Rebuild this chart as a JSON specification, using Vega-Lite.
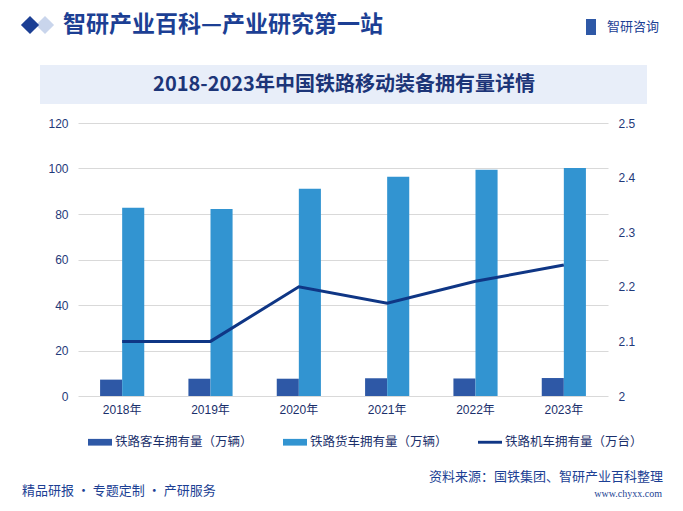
{
  "$schema": "https://vega.github.io/schema/vega-lite/v6.json",
  "width": 530,
  "height": 273,
  "autosize": {"type": "none"},
  "padding": {"left": 78, "right": 75, "top": 123, "bottom": 115},
  "background": "white",
  "config": {
    "view": {"stroke": null},
    "font": "Liberation Sans, Noto Sans CJK SC",
    "axis": {"labelFont": "Liberation Sans, Noto Sans CJK SC", "labelFontSize": 12, "labelColor": "#1f3a7a", "title": null, "domain": false, "ticks": false}
  },
  "datasets": {
    "rail": [
      {"year": "2018年", "客车": 7.2, "货车": 82.8, "机车": 2.10},
      {"year": "2019年", "客车": 7.6, "货车": 82.2, "机车": 2.10},
      {"year": "2020年", "客车": 7.6, "货车": 91.1, "机车": 2.20},
      {"year": "2021年", "客车": 7.8, "货车": 96.4, "机车": 2.17},
      {"year": "2022年", "客车": 7.7, "货车": 99.4, "机车": 2.21},
      {"year": "2023年", "客车": 7.9, "货车": 100.2, "机车": 2.24}
    ]
  },
  "data": {"name": "rail"},
  "layer": [
    {
      "transform": [
        {"fold": ["客车", "货车"], "as": ["kind", "value"]},
        {"calculate": "datum.kind === '客车' ? '铁路客车拥有量（万辆）' : '铁路货车拥有量（万辆）'", "as": "series"}
      ],
      "mark": {"type": "bar"},
      "encoding": {
        "x": {"field": "year", "type": "nominal", "sort": null,
              "scale": {"paddingInner": 0, "paddingOuter": 0},
              "axis": {"labelAngle": 0, "labelPadding": 8, "labelColor": "#1a2f6b"}},
        "xOffset": {"field": "series", "type": "nominal",
                    "scale": {"paddingInner": 0, "paddingOuter": 1.1, "domain": ["铁路客车拥有量（万辆）", "铁路货车拥有量（万辆）"]}},
        "y": {"field": "value", "type": "quantitative",
              "scale": {"domain": [0, 120], "nice": false},
              "axis": {"values": [0, 20, 40, 60, 80, 100, 120], "grid": true, "gridColor": "#d9d9d9", "labelPadding": 10, "orient": "left"}},
        "color": {"field": "series", "type": "nominal",
                  "scale": {"domain": ["铁路客车拥有量（万辆）", "铁路货车拥有量（万辆）", "铁路机车拥有量（万台）"],
                            "range": ["#2e58a6", "#3294d1", "#0f3685"]},
                  "legend": {
                    "title": null, "orient": "none", "direction": "horizontal", "legendX": 10, "legendY": 307,
                    "labelFont": "Noto Sans CJK SC", "labelFontSize": 12.5, "labelColor": "#1a2f6b",
                    "symbolType": "M-1,-0.28H1V0.28H-1Z", "symbolSize": 576, "symbolStrokeWidth": 0,
                    "labelOffset": 3, "columnPadding": 30,
                    "encode": {"symbols": {"update": {
                      "shape": {"signal": "datum.value === '铁路机车拥有量（万台）' ? 'M-1,-0.12H1V0.12H-1Z' : 'M-1,-0.28H1V0.28H-1Z'"},
                      "fill": {"scale": "color", "field": "value"},
                      "strokeWidth": {"value": 0}
                    }}}
                  }}
      }
    },
    {
      "mark": {"type": "line", "strokeWidth": 3},
      "encoding": {
        "x": {"field": "year", "type": "nominal", "sort": null},
        "y": {"field": "机车", "type": "quantitative",
              "scale": {"domain": [2, 2.5], "nice": false, "zero": false},
              "axis": {"orient": "right", "values": [2, 2.1, 2.2, 2.3, 2.4, 2.5], "format": "~g", "grid": false, "labelPadding": 10}},
        "color": {"datum": "铁路机车拥有量（万台）"}
      }
    },
    {
      "data": {"values": [{"t": "title"}]},
      "mark": {"type": "rect", "x": -38, "x2": 569, "y": -58, "y2": -19, "fill": "#e8eef9"},
      "encoding": {}
    },
    {
      "data": {"values": [{"t": "2018-2023年中国铁路移动装备拥有量详情"}]},
      "mark": {"type": "text", "x": 266, "y": -38, "align": "center", "baseline": "middle", "font": "Noto Sans CJK SC", "fontSize": 20, "fontWeight": "bold", "fill": "#1c3578"},
      "encoding": {"text": {"field": "t"}}
    },
    {
      "data": {"values": [{"t": "a"}]},
      "mark": {"type": "point", "shape": "diamond", "x": -33, "y": -98, "size": 330, "filled": true, "fill": "#c9d5ec", "opacity": 1, "strokeWidth": 0},
      "encoding": {}
    },
    {
      "data": {"values": [{"t": "b"}]},
      "mark": {"type": "point", "shape": "diamond", "x": -48, "y": -98, "size": 330, "filled": true, "fill": "#1c3f94", "opacity": 1, "strokeWidth": 0},
      "encoding": {}
    },
    {
      "data": {"values": [{"t": "智研产业百科—产业研究第一站"}]},
      "mark": {"type": "text", "x": -15, "y": -98, "align": "left", "baseline": "middle", "font": "Noto Sans CJK SC", "fontSize": 23, "fontWeight": "bold", "fill": "#1c3f94"},
      "encoding": {"text": {"field": "t"}}
    },
    {
      "data": {"values": [{"t": "line"}]},
      "mark": {"type": "rule", "x": -56, "x2": 588, "y": -78, "y2": -78, "stroke": "#1c3f94", "strokeWidth": 1.5},
      "encoding": {}
    },
    {
      "data": {"values": [{"t": "logo"}]},
      "mark": {"type": "rect", "x": 508, "x2": 518, "y": -104, "y2": -88, "fill": "#2e58a6"},
      "encoding": {}
    },
    {
      "data": {"values": [{"t": "智研咨询"}]},
      "mark": {"type": "text", "x": 529, "y": -96, "align": "left", "baseline": "middle", "font": "Noto Sans CJK SC", "fontSize": 13, "fill": "#1c3f94"},
      "encoding": {"text": {"field": "t"}}
    },
    {
      "data": {"values": [{"t": "fline"}]},
      "mark": {"type": "rule", "x": -56, "x2": 332, "y": 358, "y2": 358, "stroke": "#1c3f94", "strokeWidth": 1.5},
      "encoding": {}
    },
    {
      "data": {"values": [{"t": "精品研报 · 专题定制 · 产研服务"}]},
      "mark": {"type": "text", "x": -56, "y": 368, "align": "left", "baseline": "middle", "font": "Noto Sans CJK SC", "fontSize": 13, "fill": "#1c3f94"},
      "encoding": {"text": {"field": "t"}}
    },
    {
      "data": {"values": [{"t": "资料来源：国铁集团、智研产业百科整理"}]},
      "mark": {"type": "text", "x": 585, "y": 354, "align": "right", "baseline": "middle", "font": "Noto Sans CJK SC", "fontSize": 13, "fill": "#1c3f94"},
      "encoding": {"text": {"field": "t"}}
    },
    {
      "data": {"values": [{"t": "www.chyxx.com"}]},
      "mark": {"type": "text", "x": 584, "y": 371, "align": "right", "baseline": "middle", "font": "Liberation Serif", "fontSize": 10, "fill": "#1c3f94"},
      "encoding": {"text": {"field": "t"}}
    }
  ],
  "resolve": {"scale": {"y": "independent"}}
}
